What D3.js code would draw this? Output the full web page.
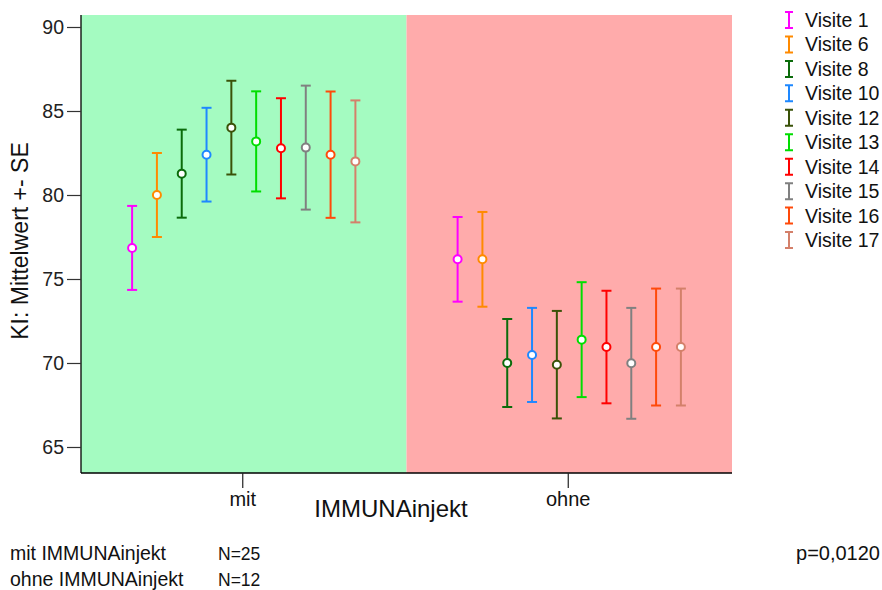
<!DOCTYPE html>
<html><head><meta charset="utf-8">
<script src="https://cdn.jsdelivr.net/npm/d3@7"></script>
<style>body{margin:0;background:#fff}svg{display:block;font-family:"Liberation Sans",Arial,sans-serif}</style>
</head><body><svg id="c" width="882" height="590"></svg>
<script>
const groups = ["mit", "ohne"];
const visits = ["Visite 1","Visite 6","Visite 8","Visite 10","Visite 12","Visite 13","Visite 14","Visite 15","Visite 16","Visite 17"];
const colors = ["#ff00ff","#ff8a00","#0b6b0b","#1e88ff","#3a5208","#00dd00","#ff0000","#808080","#ff4a0a","#d4806a"];
const meanMit  = [76.85, 80.0, 81.27, 82.4, 84.01, 83.19, 82.78, 82.82, 82.4, 82.0];
const seMit    = [2.5, 2.5, 2.62, 2.79, 2.79, 2.98, 2.98, 3.69, 3.76, 3.63];
const meanOhne = [76.17, 76.17, 70.0, 70.48, 69.9, 71.39, 70.95, 69.98, 70.95, 70.95];
const seOhne   = [2.52, 2.82, 2.62, 2.8, 3.2, 3.42, 3.35, 3.3, 3.48, 3.48];
const yTicks = [65, 70, 75, 80, 85, 90];
const groupN = ["N=25", "N=12"];
const groupLabels = ["mit IMMUNAinjekt", "ohne IMMUNAinjekt"];
const bgColors = ["#a4fbc1", "#ffabab"];
const pText = "p=0,0120";

const svg = d3.select("#c");
const L = 81, R = 732, T = 15, B = 473;
const y = d3.scaleLinear().domain([63.452, 90.714]).range([B, T]);
const x = d3.scaleBand().domain(groups).range([L, R]);
const xi = d3.scalePoint().domain(visits).range([0, x.bandwidth()]).padding(2.06);

// backgrounds
svg.selectAll("rect.bg").data(groups).join("rect")
  .attr("x", d => x(d)).attr("y", T).attr("width", x.bandwidth()).attr("height", B - T)
  .attr("fill", (d, i) => bgColors[i]);

// axes
const ya = svg.append("g").attr("transform", `translate(${L},0)`)
  .call(d3.axisLeft(y).tickValues(yTicks).tickSize(14).tickPadding(3).tickSizeOuter(0));
ya.select(".domain").attr("d", `M0,${T}V${B}`).attr("stroke", "#000").attr("stroke-width", 1.3);
ya.selectAll("text").attr("font-size", 19.5).attr("fill", "#222").attr("font-family", "Liberation Sans, Arial");
ya.selectAll("line").attr("stroke", "#333").attr("stroke-width", 1.2);

const xa = svg.append("g").attr("transform", `translate(0,${B})`)
  .call(d3.axisBottom(x).tickSize(15).tickPadding(4).tickSizeOuter(0));
xa.select(".domain").attr("d", `M${L},0H${R}`).attr("stroke", "#000").attr("stroke-width", 1.6);
xa.selectAll("text").attr("font-size", 20).attr("fill", "#111").attr("font-family", "Liberation Sans, Arial");
xa.selectAll("line").attr("stroke", "#222").attr("stroke-width", 1.2);
xa.selectAll(".tick").attr("transform", d => `translate(${x(d) + x.bandwidth()/2 - 1},0)`);

// data rows
const rows = [];
groups.forEach((g, gi) => {
  const m = gi === 0 ? meanMit : meanOhne;
  const s = gi === 0 ? seMit : seOhne;
  visits.forEach((v, vi) => rows.push({g, v, vi, m: m[vi], se: s[vi]}));
});
const cx = d => x(d.g) + xi(d.v);
const cap = 5;
const eb = svg.append("g").selectAll("g").data(rows).join("g")
  .attr("stroke", d => colors[d.vi]).attr("stroke-width", 2).attr("fill", "none");
eb.append("line").attr("x1", cx).attr("x2", cx).attr("y1", d => y(d.m + d.se)).attr("y2", d => y(d.m - d.se));
eb.append("line").attr("x1", d => cx(d) - cap).attr("x2", d => cx(d) + cap).attr("y1", d => y(d.m + d.se)).attr("y2", d => y(d.m + d.se));
eb.append("line").attr("x1", d => cx(d) - cap).attr("x2", d => cx(d) + cap).attr("y1", d => y(d.m - d.se)).attr("y2", d => y(d.m - d.se));
eb.append("circle").attr("cx", cx).attr("cy", d => y(d.m)).attr("r", 4).attr("fill", "#fff");

// axis titles
svg.append("text").attr("transform", `translate(28,${241}) rotate(-90)`)
  .attr("text-anchor", "middle").attr("font-size", 23).attr("fill", "#111").text("KI: Mittelwert +- SE");
svg.append("text").attr("x", 391).attr("y", 517).attr("text-anchor", "middle")
  .attr("font-size", 24).attr("fill", "#111").text("IMMUNAinjekt");

// legend
const lg = svg.append("g").selectAll("g").data(visits).join("g")
  .attr("transform", (d, i) => `translate(789,${20 + i * 24.45})`);
lg.append("path").attr("d", "M-4,-8H4M0,-8V8M-4,8H4").attr("stroke", (d, i) => colors[i]).attr("stroke-width", 2).attr("fill", "none");
lg.append("text").attr("x", 16).attr("y", 7).attr("font-size", 19.5).attr("fill", "#111").text(d => d);

// footnotes
const fn = svg.append("g").selectAll("g").data(groupLabels).join("g")
  .attr("transform", (d, i) => `translate(0,${560 + i * 25.5})`);
fn.append("text").attr("x", 10).attr("font-size", 19.5).attr("fill", "#111").text(d => d);
fn.append("text").attr("x", 218).attr("font-size", 17.5).attr("fill", "#111").text((d, i) => groupN[i]);
svg.append("text").attr("x", 880).attr("y", 560).attr("text-anchor", "end").attr("font-size", 20).attr("fill", "#111").text(pText);
</script></body></html>
